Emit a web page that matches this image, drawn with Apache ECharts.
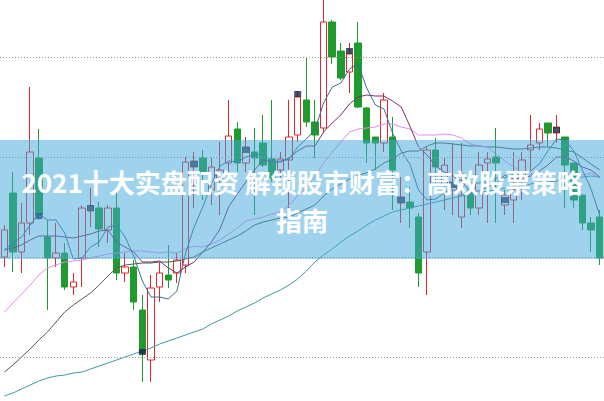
<!DOCTYPE html>
<html>
<head>
<meta charset="utf-8">
<script src="https://cdn.jsdelivr.net/npm/echarts/dist/echarts.min.js"></script>
<style>
html,body{margin:0;padding:0;background:#fff;}
#chart{width:604px;height:401px;}
</style>
</head>
<body>
<div id="chart"></div>
<script>
// ---- data ----
var categories = [];
for (var k = 1; k <= 70; k++) categories.push('D' + k);

var opens = [11.00,11.64,11.05,11.34,11.99,11.20,10.99,11.04,10.70,10.99, 11.46,11.49,11.27,11.49,10.84,10.90,10.47,9.97,10.70,10.82, 10.84,10.92,11.90,11.99,11.67,11.79,11.94,12.28,11.94,12.05, 12.14,11.98,11.87,11.97,12.22,12.57,12.35,12.29,13.35,13.06, 12.85,13.14,12.49,12.20,12.14,12.20,11.54,11.55,11.40,11.05, 12.07,11.72,11.67,11.40,11.67,11.49,11.94,12.00,11.52,11.57, 11.77,12.07,12.14,12.34,12.24,12.20,11.94,11.62,11.34,11.40];
var closes = [11.27,11.05,11.34,12.05,11.42,10.99,11.04,10.70,10.75,11.49, 11.51,11.28,11.49,10.84,10.90,10.55,10.04,10.69,10.84,10.77, 10.97,11.95,11.96,11.85,11.90,11.87,12.21,11.94,12.10,11.99, 11.92,11.79,11.98,12.20,12.60,12.35,12.22,13.35,13.00,12.79, 13.03,12.50,12.14,12.14,12.57,11.87,11.60,11.49,10.84,12.07, 11.90,11.92,11.75,11.62,11.49,11.92,11.98,11.94,11.62,11.67, 11.97,12.12,12.28,12.24,12.30,11.92,11.57,11.34,11.27,10.99];
var lows = [10.90,10.85,10.84,11.22,11.37,10.47,10.90,10.67,10.62,10.70, 11.30,11.10,11.14,10.77,10.75,10.47,9.75,9.75,10.55,10.69, 10.74,10.84,11.49,11.57,11.52,11.42,11.85,11.85,11.85,11.42, 11.90,11.75,11.77,11.47,12.15,12.30,11.99,12.25,12.93,12.77, 12.64,12.49,11.94,11.87,12.05,11.47,11.34,11.29,10.70,10.62, 11.74,11.47,11.42,11.29,11.42,11.42,11.34,11.34,11.42,11.34, 11.57,11.87,12.07,12.10,12.14,11.49,11.49,11.27,11.05,10.92];
var highs = [11.32,11.85,11.54,12.70,12.28,11.37,11.34,11.14,10.84,11.52, 11.69,11.55,11.52,11.67,11.04,10.97,10.62,10.82,10.95,11.12, 11.04,12.00,12.05,12.07,11.99,12.15,12.57,12.35,12.20,12.29, 12.42,12.57,12.05,12.57,12.66,13.00,12.57,13.62,13.37,13.14, 13.14,13.35,12.50,12.20,12.64,12.40,11.80,11.70,11.44,12.10, 12.19,11.99,12.14,12.14,11.75,12.05,12.05,12.29,11.67,12.05, 12.05,12.42,12.34,12.34,12.42,12.20,11.94,11.62,11.40,11.47];

var ma5 = [11.07,11.14,11.20,11.32,11.43,11.37,11.37,11.24,10.98,10.99, 11.10,11.15,11.30,11.32,11.20,11.01,10.76,10.60,10.60,10.58, 10.66,11.04,11.30,11.50,11.73,11.91,11.96,11.95,12.00,12.02, 12.03,11.95,11.96,11.98,12.10,12.18,12.27,12.54,12.70,12.74, 12.88,12.93,12.69,12.52,12.48,12.24,12.06,11.93,11.67,11.57, 11.58,11.64,11.70,11.85,11.74,11.74,11.75,11.79,11.79,11.83, 11.84,11.86,11.93,12.06,12.18,12.17,12.06,11.87,11.68,11.42];
var ma10 = [11.07,11.09,11.12,11.17,11.21,11.21,11.21,11.20,11.19,11.21, 11.23,11.26,11.27,11.15,11.10,11.05,10.95,10.95,10.96,10.89, 10.84,10.90,10.95,11.05,11.15,11.28,11.50,11.63,11.75,11.87, 11.97,11.95,11.95,11.99,12.06,12.11,12.11,12.25,12.34,12.42, 12.53,12.60,12.62,12.61,12.61,12.56,12.50,12.31,12.10,12.02, 11.91,11.85,11.81,11.76,11.65,11.66,11.70,11.74,11.82,11.78, 11.79,11.81,11.86,11.92,12.00,12.00,11.96,11.90,11.87,11.80];
var ma20 = [10.45,10.54,10.63,10.72,10.82,10.89,10.92,10.95,10.96,10.97, 10.99,11.01,11.03,11.04,11.05,11.06,11.06,11.05,11.04,11.05, 11.04,11.08,11.11,11.10,11.13,11.17,11.23,11.29,11.36,11.38, 11.40,11.43,11.45,11.52,11.61,11.70,11.80,11.94,12.05,12.15, 12.25,12.28,12.29,12.30,12.33,12.33,12.30,12.28,12.22,12.22, 12.22,12.23,12.22,12.19,12.13,12.11,12.10,12.03,11.96,11.90, 11.85,11.83,11.84,11.84,11.83,11.83,11.83,11.82,11.84,11.79];
var ma30 = [9.85,9.92,10.00,10.08,10.17,10.25,10.35,10.45,10.52,10.58, 10.64,10.72,10.81,10.89,10.92,10.93,10.94,10.94,10.95,10.95, 10.96,10.98,11.00,11.05,11.09,11.13,11.17,11.21,11.26,11.32, 11.35,11.37,11.39,11.40,11.44,11.48,11.52,11.61,11.68,11.73, 11.78,11.82,11.84,11.88,11.94,11.98,12.04,12.06,12.06,12.11, 12.14,12.14,12.13,12.12,12.11,12.11,12.10,12.10,12.09,12.08, 12.08,12.09,12.10,12.10,12.09,12.07,12.05,11.99,11.93,11.87];
var ma60 = [9.61,9.64,9.68,9.72,9.76,9.79,9.81,9.82,9.84,9.85, 9.88,9.91,9.94,9.97,10.00,10.03,10.06,10.09,10.13,10.16, 10.19,10.22,10.25,10.28,10.33,10.37,10.41,10.46,10.50,10.54, 10.59,10.63,10.67,10.72,10.78,10.86,10.95,11.02,11.08,11.15, 11.21,11.26,11.32,11.37,11.41,11.45,11.47,11.49,11.51,11.53, 11.55,11.57,11.59,11.61,11.62,11.64,11.66,11.67,11.69,11.70, 11.71,11.73,11.75,11.75,11.76,11.78,11.79,11.80,11.81,11.80];

var markerIdx = [4,10,16,22,28,34,40,46,52,58,64];
var markerVal = [11.41,11.49,10.05,11.93,12.07,12.63,13.06,11.57,11.72,11.57,12.27];

var gridLevels = [10,11,12,13];
var titleText = '2021十大实盘配资 解锁股市财富：高效股票策略\n指南';

// ---- build chart ----
var candleData = [];
for (var i = 0; i < categories.length; i++) {
  candleData.push([opens[i], closes[i], lows[i], highs[i]]);
}
var markerData = [];
for (var j = 0; j < markerIdx.length; j++) {
  markerData.push([categories[markerIdx[j]], markerVal[j]]);
}
function maSeries(name, data, color) {
  return {
    name: name, type: 'line', data: data, showSymbol: false, symbol: 'none',
    smooth: false, silent: true, z: 3,
    lineStyle: { color: color, width: 1 }
  };
}

var chart = echarts.init(document.getElementById('chart'), null, { renderer: 'svg' });
chart.setOption({
  animation: false,
  backgroundColor: '#ffffff',
  grid: { left: -2.675, width: 612.5, top: 0, bottom: 0 },
  xAxis: { type: 'category', data: categories, show: false, boundaryGap: true },
  yAxis: { type: 'value', min: 9.56, max: 13.57, show: false, splitLine: { show: false } },
  series: [
    {
      type: 'candlestick',
      data: candleData,
      barWidth: 7,
      silent: true,
      itemStyle: {
        color: '#ffffff', borderColor: '#e0252d',
        color0: '#1f9a2c', borderColor0: '#1f9a2c',
        borderWidth: 1
      },
      markLine: {
        silent: true, symbol: ['none', 'none'], label: { show: false },
        lineStyle: { color: '#9a9a9a', width: 1, type: [1, 2] },
        data: gridLevels.map(function (v) { return { yAxis: v }; })
      }
    },
    maSeries('MA60', ma60, '#3f9aa3'),
    maSeries('MA30', ma30, '#4d6150'),
    maSeries('MA20', ma20, '#e58be6'),
    maSeries('MA10', ma10, '#7d2f6f'),
    maSeries('MA5', ma5, '#3c6f8e'),
    {
      type: 'scatter', data: markerData, symbol: 'rect', symbolSize: [7, 6],
      silent: true, z: 4,
      itemStyle: { color: '#1b2740' }
    }
  ],
  graphic: [
    {
      type: 'rect', left: 0, top: 140, z: 100, silent: true,
      shape: { width: 604, height: 119 },
      style: { fill: 'rgba(64,168,220,0.5)' }
    },
    {
      type: 'text', x: 302, y: 200, z: 101, silent: true,
      style: {
        text: titleText, fill: '#ffffff',
        font: 'bold 26px "Noto Sans CJK SC"',
        align: 'center', verticalAlign: 'middle',
        textAlign: 'center', textVerticalAlign: 'middle',
        lineHeight: 38
      }
    }
  ]
});
</script>
</body>
</html>
